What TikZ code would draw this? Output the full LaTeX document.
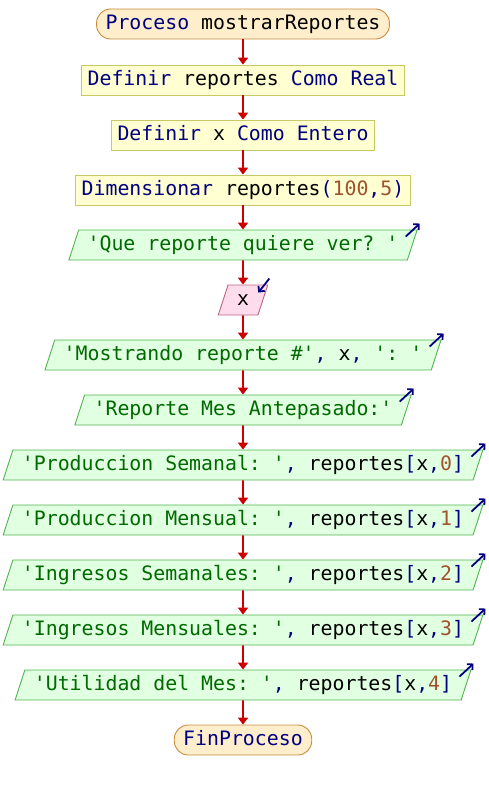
\documentclass[tikz,border=0pt]{standalone}
\usepackage{fontspec}
\setmonofont{DejaVu Sans Mono}
\usepackage{xcolor}
\usepackage{tikz}
\usetikzlibrary{shapes.geometric, arrows.meta}

% Colores del diagrama
\definecolor{clave}{RGB}{0,0,128}
\definecolor{cadena}{RGB}{0,105,0}
\definecolor{numero}{RGB}{160,82,45}
\definecolor{flujorojo}{RGB}{204,0,0}
\definecolor{termfondo}{RGB}{255,238,204}
\definecolor{termborde}{RGB}{200,140,60}
\definecolor{procfondo}{RGB}{255,255,210}
\definecolor{procborde}{RGB}{200,200,100}
\definecolor{salfondo}{RGB}{225,255,225}
\definecolor{salborde}{RGB}{80,180,80}
\definecolor{entfondo}{RGB}{255,220,235}
\definecolor{entborde}{RGB}{190,100,130}

% Resaltado de sintaxis
\newcommand{\pk}[1]{\textcolor{clave}{#1}}
\newcommand{\pcad}[1]{\textcolor{cadena}{#1}}
\newcommand{\pnum}[1]{\textcolor{numero}{#1}}

\tikzset{
    base/.style={draw, line width=0.9pt, font=\ttfamily\fontsize{19.85}{24}\selectfont,
        text height=15pt, text depth=4.5pt, inner ysep=5.25pt},
    terminal/.style={base, rectangle, rounded corners=14pt, inner xsep=9pt,
        fill=termfondo, draw=termborde, text=clave},
    proceso/.style={base, rectangle, inner xsep=6pt, fill=procfondo, draw=procborde},
    salida/.style={base, trapezium, trapezium left angle=72, trapezium right angle=108,
        inner xsep=9pt, fill=salfondo, draw=salborde},
    entrada/.style={salida, fill=entfondo, draw=entborde},
    flujo/.style={-{Triangle[length=7pt,width=10pt]}, line width=1.8pt, draw=flujorojo},
    eco/.style={-{Straight Barb[length=4pt,width=8pt]}, line width=1.8pt, draw=clave},
}

\begin{document}
\begin{tikzpicture}[x=1pt, y=-1pt]

    \useasboundingbox (0,0) rectangle (488,790);

    % =================================================================
    % 1. NODOS DEL DIAGRAMA
    % =================================================================
    \node[terminal] (inicio) at (243,24) {Proceso \textcolor{black}{mostrarReportes}};
    \node[proceso] (defrep) at (243,80) {\pk{Definir} reportes \pk{Como Real}};
    \node[proceso] (defx) at (243,135) {\pk{Definir} x \pk{Como Entero}};
    \node[proceso] (dimrep) at (243,190) {\pk{Dimensionar} reportes\pk{(}\pnum{100}\pk{,}\pnum{5}\pk{)}};
    \node[salida] (pregunta) at (243,245) {\pcad{'Que reporte quiere ver? '}};
    \node[entrada] (leerx) at (243,300) {x};
    \node[salida] (mostrando) at (243,355) {\pcad{'Mostrando reporte \#'}\pk{,} x\pk{,} \pcad{': '}};
    \node[salida] (titulo) at (243,410) {\pcad{'Reporte Mes Antepasado:'}};
    \node[salida] (prodsem) at (243,465) {\pcad{'Produccion Semanal: '}\pk{,} reportes\pk{[}x\pk{,}\pnum{0}\pk{]}};
    \node[salida] (prodmen) at (243,520) {\pcad{'Produccion Mensual: '}\pk{,} reportes\pk{[}x\pk{,}\pnum{1}\pk{]}};
    \node[salida] (ingsem) at (243,575) {\pcad{'Ingresos Semanales: '}\pk{,} reportes\pk{[}x\pk{,}\pnum{2}\pk{]}};
    \node[salida] (ingmen) at (243,630) {\pcad{'Ingresos Mensuales: '}\pk{,} reportes\pk{[}x\pk{,}\pnum{3}\pk{]}};
    \node[salida] (utilidad) at (243,685) {\pcad{'Utilidad del Mes: '}\pk{,} reportes\pk{[}x\pk{,}\pnum{4}\pk{]}};
    \node[terminal] (fin) at (243,740) {FinProceso};

    % =================================================================
    % 2. FLECHAS DE FLUJO
    % =================================================================
    \draw[flujo] (inicio) -- (defrep);
    \draw[flujo] (defrep) -- (defx);
    \draw[flujo] (defx) -- (dimrep);
    \draw[flujo] (dimrep) -- (pregunta);
    \draw[flujo] (pregunta) -- (leerx);
    \draw[flujo] (leerx) -- (mostrando);
    \draw[flujo] (mostrando) -- (titulo);
    \draw[flujo] (titulo) -- (prodsem);
    \draw[flujo] (prodsem) -- (prodmen);
    \draw[flujo] (prodmen) -- (ingsem);
    \draw[flujo] (ingsem) -- (ingmen);
    \draw[flujo] (ingmen) -- (utilidad);
    \draw[flujo] (utilidad) -- (fin);

    % =================================================================
    % 3. FLECHITAS DE ENTRADA / SALIDA
    % =================================================================
    % #1: nombre del nodo de salida
    \newcommand{\flechasalida}[1]{
        \draw[eco] ([shift={(-12,7)}]#1.top right corner) -- ([shift={(2,-6)}]#1.top right corner);
    }
    \flechasalida{pregunta}
    \flechasalida{mostrando}
    \flechasalida{titulo}
    \flechasalida{prodsem}
    \flechasalida{prodmen}
    \flechasalida{ingsem}
    \flechasalida{ingmen}
    \flechasalida{utilidad}

    % Lectura de x (flecha hacia dentro)
    \draw[eco] ([shift={(1,-6)}]leerx.top right corner) -- ([shift={(-10,8)}]leerx.top right corner);

\end{tikzpicture}
\end{document}
